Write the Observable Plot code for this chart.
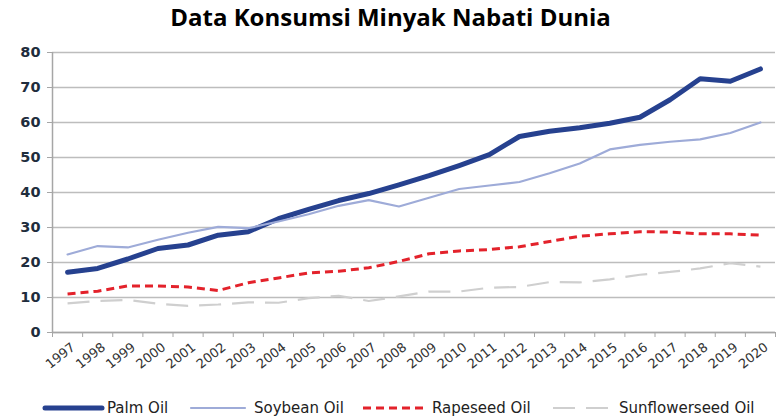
<!DOCTYPE html>
<html>
<head>
<meta charset="utf-8">
<script src="https://cdn.jsdelivr.net/npm/d3@7"></script>
<script src="https://cdn.jsdelivr.net/npm/@observablehq/plot@0.6"></script>
<style>
  html, body { margin: 0; padding: 0; background: #fff; }
  #wrap { position: relative; width: 781px; height: 419px; overflow: hidden; }
  #title { position: absolute; left: 0; top: 0; width: 781px; height: 34px; line-height: 34px; text-align: center;
           font-family: "Open Sans", sans-serif; font-weight: 700; font-size: 24px; color: #000; }
  #chart { position: absolute; left: 0; top: 34px; }
  .lg { position: absolute; top: 397px; height: 22px; display: flex; align-items: center;
        font-family: "DejaVu Sans", sans-serif; font-size: 15px; color: #222; white-space: nowrap; }
  .lg svg { display: block; }
</style>
</head>
<body>
<div id="wrap">
  <div id="title">Data Konsumsi Minyak Nabati Dunia</div>
  <div id="chart"></div>
  <div id="legend"></div>
</div>
<script>
const years = [1997,1998,1999,2000,2001,2002,2003,2004,2005,2006,2007,2008,2009,2010,2011,2012,2013,2014,2015,2016,2017,2018,2019,2020];
const palmOil = [17.2,18.3,21.0,24.0,25.0,27.8,28.8,32.5,35.2,37.7,39.7,42.2,44.8,47.7,50.8,56.0,57.5,58.5,59.8,61.5,66.5,72.5,71.8,75.3];
const soybeanOil = [22.3,24.7,24.3,26.5,28.5,30.2,29.8,31.7,33.8,36.2,37.8,36.0,38.5,41.0,42.0,43.0,45.5,48.3,52.3,53.6,54.5,55.2,57.0,60.0];
const rapeseedOil = [11.0,11.8,13.3,13.3,13.0,12.0,14.2,15.6,17.0,17.5,18.5,20.3,22.5,23.3,23.7,24.5,26.0,27.5,28.2,28.8,28.7,28.2,28.2,27.8];
const sunflowerseedOil = [8.3,9.0,9.3,8.2,7.6,8.0,8.6,8.5,9.8,10.5,9.0,10.3,11.7,11.7,12.8,13.0,14.4,14.3,15.2,16.5,17.3,18.3,19.8,18.8];
const yTicks = [0,10,20,30,40,50,60,70,80];
const seriesNames = ["Palm Oil","Soybean Oil","Rapeseed Oil","Sunflowerseed Oil"];

const styles = [
  {stroke: "#26418f", strokeWidth: 5, strokeDasharray: null},
  {stroke: "#9eabd8", strokeWidth: 2.2, strokeDasharray: null},
  {stroke: "#e3222b", strokeWidth: 3, strokeDasharray: "8,5"},
  {stroke: "#cfcfcf", strokeWidth: 2.2, strokeDasharray: "22,11"}
];
const seriesValues = [palmOil, soybeanOil, rapeseedOil, sunflowerseedOil];

const xMin = years[0] - 0.5, xMax = years[years.length - 1] + 0.5;
const boundaries = years.map(y => y - 0.5).concat([xMax]);

const lineMarks = seriesValues.map((vals, k) => Plot.line(vals, {
  x: (d, i) => years[i], y: d => d,
  stroke: styles[k].stroke, strokeWidth: styles[k].strokeWidth,
  strokeDasharray: styles[k].strokeDasharray || undefined,
  strokeLinejoin: "round", strokeLinecap: styles[k].strokeDasharray ? "butt" : "round"
}));

const chart = Plot.plot({
  width: 781, height: 360,
  marginTop: 18, marginBottom: 62, marginLeft: 52, marginRight: 6,
  x: {type: "linear", domain: [xMin, xMax], axis: null},
  y: {domain: [0, 80], axis: null},
  style: {fontFamily: "DejaVu Sans, sans-serif", background: "white", color: "#a6a6a6", overflow: "visible"},
  marks: [
    Plot.ruleY(yTicks, {y: d => d, stroke: "#bdbdbd", strokeWidth: 1.5}),
    Plot.ruleX([xMin], {y1: 0, y2: 80, stroke: "#a6a6a6", strokeWidth: 1.5}),
    Plot.ruleY([0], {stroke: "#a6a6a6", strokeWidth: 1.5}),
    Plot.axisY({ticks: yTicks, tickSize: 5, tickFormat: () => ""}),
    Plot.axisX({ticks: boundaries, tickSize: 5, tickFormat: () => ""}),
    Plot.text(yTicks, {x: xMin, y: d => d, text: d => String(d), textAnchor: "end", dx: -12,
      fontWeight: "bold", fontSize: 14.5, fill: "#1f2d3d"}),
    Plot.text(years, {x: d => d, y: 0, text: d => String(d), textAnchor: "end", dx: 6, dy: 13,
      rotate: -38, fontSize: 13, fill: "#333"}),
    ...lineMarks
  ]
});
document.getElementById("chart").appendChild(chart);

// legend
const legendPos = [
  {sx: 42, sw: 63, tx: 107},
  {sx: 188, sw: 60, tx: 254},
  {sx: 363, sw: 62, tx: 432},
  {sx: 553, sw: 60, tx: 619}
];
const legend = document.getElementById("legend");
seriesNames.forEach((name, k) => {
  const p = legendPos[k], st = styles[k];
  const sw = document.createElement("div");
  sw.className = "lg";
  sw.style.left = p.sx + "px";
  sw.innerHTML = `<svg width="${p.sw}" height="10"><line x1="${st.strokeDasharray ? 0 : 3}" y1="5" x2="${st.strokeDasharray ? p.sw : p.sw - 3}" y2="5" stroke="${st.stroke}" stroke-width="${st.strokeWidth}" stroke-linecap="${st.strokeDasharray ? 'butt' : 'round'}" ${st.strokeDasharray ? `stroke-dasharray="${st.strokeDasharray}"` : ""}/></svg>`;
  legend.appendChild(sw);
  const t = document.createElement("div");
  t.className = "lg";
  t.style.left = p.tx + "px";
  t.textContent = name;
  legend.appendChild(t);
});
</script>
</body>
</html>
